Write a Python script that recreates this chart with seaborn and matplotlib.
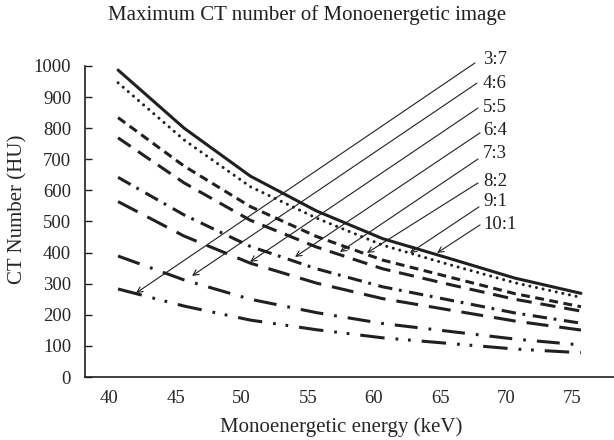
import matplotlib
matplotlib.use("Agg")
import matplotlib.pyplot as plt
import seaborn as sns
import pandas as pd

# ---- data ----
energies = [40, 45, 50, 55, 60, 65, 70, 75]
ratios = ["10:1", "9:1", "8:2", "7:3", "6:4", "5:5", "4:6", "3:7"]
ct_10_1 = [987, 800, 646, 534, 445, 382, 318, 269]
ct_9_1 = [946, 762, 612, 511, 424, 362, 303, 256]
ct_8_2 = [834, 678, 548, 452, 376, 322, 268, 226]
ct_7_3 = [769, 624, 504, 418, 348, 298, 250, 212]
ct_6_4 = [642, 521, 420, 348, 290, 248, 206, 173]
ct_5_5 = [564, 453, 366, 302, 252, 216, 180, 151]
ct_4_6 = [389, 312, 250, 207, 172, 147, 122, 103]
ct_3_7 = [283, 228, 183, 152, 126, 108, 90, 78]
series = [ct_10_1, ct_9_1, ct_8_2, ct_7_3, ct_6_4, ct_5_5, ct_4_6, ct_3_7]
yticks = [0, 100, 200, 300, 400, 500, 600, 700, 800, 900, 1000]

df = pd.DataFrame({
    "energy": energies * len(ratios),
    "ct": [v for s in series for v in s],
    "ratio": [r for r in ratios for _ in energies],
})

sns.set_theme(style="white")
plt.rcParams["font.family"] = ["Liberation Serif", "DejaVu Serif"]
plt.rcParams["text.color"] = "#231f20"

fig = plt.figure(figsize=(6.14, 4.4), dpi=100)
ax = fig.add_axes([85 / 614, 1 - 377 / 440, 529 / 614, 311 / 440])

styles = {
    "10:1": dict(linestyle="-"),
    "9:1": dict(linestyle=(0, (0.01, 2.2)), dash_capstyle="round"),
    "8:2": dict(linestyle=(0, (2.9, 1.8))),
    "7:3": dict(linestyle=(0, (5.0, 2.9))),
    "6:4": dict(linestyle=(0, (4.7, 2.2, 0.9, 2.5))),
    "5:5": dict(linestyle=(0, (7.2, 3.6))),
    "4:6": dict(linestyle=(0, (7.5, 3.6, 0.9, 3.6))),
    "3:7": dict(linestyle=(0, (8.0, 3.6, 0.9, 3.2, 0.9, 3.6))),
}
for r in ratios:
    sub = df[df["ratio"] == r]
    sns.lineplot(data=sub, x="energy", y="ct", ax=ax, color="#231f20",
                 lw=2.2, **styles[r])

# annotations (arrow tail -> head, label)
heads = {"3:7": (41.36, 270), "4:6": (45.59, 325), "5:5": (49.98, 370),
         "6:4": (53.38, 386), "7:3": (56.78, 402), "8:2": (58.82, 399),
         "9:1": (62.07, 399), "10:1": (64.12, 399)}
tails = {"3:7": (66.99, 1010), "4:6": (67.14, 945), "5:5": (67.22, 865),
         "6:4": (67.37, 785), "7:3": (67.22, 701), "8:2": (67.22, 624),
         "9:1": (67.29, 547), "10:1": (67.37, 489)}
label_y = {"3:7": 1022, "4:6": 945, "5:5": 865, "6:4": 791, "7:3": 720,
           "8:2": 630, "9:1": 563, "10:1": 489}
for r in ratios:
    ax.annotate("", xy=heads[r], xytext=tails[r],
                arrowprops=dict(arrowstyle="->", lw=0.8, color="#231f20",
                                shrinkA=0, shrinkB=0, mutation_scale=10),
                annotation_clip=False)
    ax.text(67.6, label_y[r], r, ha="left", va="center", fontsize=13.5,
            clip_on=False)

ax.set_xlim(37.5, 77.5)
ax.set_ylim(0, 1000)
ax.set_yticks(yticks)
ax.set_xticks([42.5 + 5 * i for i in range(8)])
ax.set_xticklabels([])
ax.set_xticks([e - 0.65 for e in energies], minor=True)
ax.set_xticklabels([str(e) for e in energies], minor=True)
ax.tick_params(axis="x", which="major", direction="in", length=5, width=1,
               color="#231f20")
ax.tick_params(axis="x", which="minor", length=0, pad=9, labelsize=13.5)
ax.tick_params(axis="y", direction="in", length=5, width=1, pad=10,
               labelsize=13.5, color="#231f20", left=True)

for s in ["top", "right"]:
    ax.spines[s].set_visible(False)
for s in ["left", "bottom"]:
    ax.spines[s].set_color("#231f20")
    ax.spines[s].set_linewidth(1.2)

ax.set_xlabel("Monoenergetic energy (keV)", fontsize=15, va="center")
ax.xaxis.set_label_coords((341 - 85) / 529, -(427 - 377) / 311)
ax.set_ylabel("CT Number (HU)", fontsize=15, va="center")
ax.yaxis.set_label_coords((18 - 85) / 529, (377 - 209) / 311)
fig.text(0.5, 1 - 15 / 440, "Maximum CT number of Monoenergetic image",
         ha="center", va="center", fontsize=15)

fig.savefig("out.png", dpi=100)
